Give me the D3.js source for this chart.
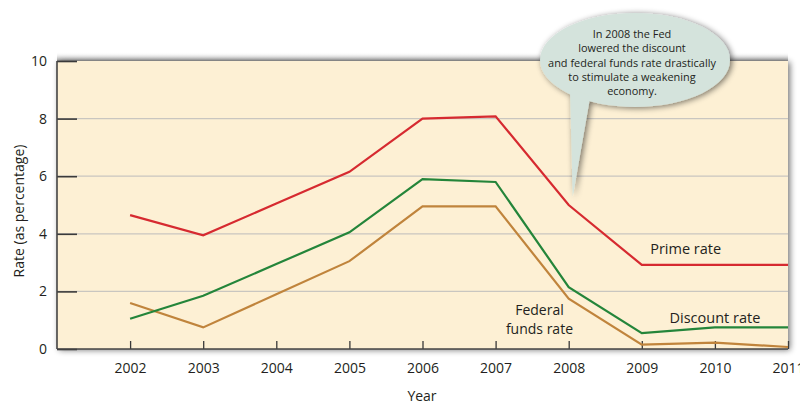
<!DOCTYPE html>
<html>
<head>
<meta charset="utf-8">
<script src="https://cdn.jsdelivr.net/npm/d3@7"></script>
<style>
  body { margin: 0; background: #fff; }
  text { font-family: "Open Sans", sans-serif; fill: #231f20; }
</style>
</head>
<body>
<div id="chart"></div>
<script>
// years on the x axis
var years = [2002, 2003, 2004, 2005, 2006, 2007, 2008, 2009, 2010, 2011];

// rates (percent)
var primeRate    = [4.65, 3.95, 5.05, 6.15, 8.0, 8.08, 5.0, 2.92, 2.92, 2.92];
var discountRate = [1.05, 1.85, 2.95, 4.05, 5.9, 5.8, 2.15, 0.55, 0.75, 0.75];
var fedFundsRate = [1.6, 0.75, 1.9, 3.05, 4.95, 4.95, 1.75, 0.15, 0.22, 0.07];

var yTicks = [0, 2, 4, 6, 8, 10];

var calloutLines = [
  "In 2008 the Fed",
  "lowered the discount",
  "and federal funds rate drastically",
  "to stimulate a weakening",
  "economy."
];

var width = 800;
var height = 405;
var margin = { top: 61, right: 12, bottom: 56, left: 57 };
var plotW = width - margin.left - margin.right;
var plotH = height - margin.top - margin.bottom;

var svg = d3.select('#chart')
  .append('svg')
  .attr('width', width)
  .attr('height', height);

var defs = svg.append('defs');

// soft shadow used for the plot box and the bubble
var shadow = defs.append('filter')
  .attr('id', 'shadow')
  .attr('x', '-10%').attr('y', '-10%')
  .attr('width', '120%').attr('height', '120%');
shadow.append('feGaussianBlur')
  .attr('in', 'SourceAlpha')
  .attr('stdDeviation', 3);
shadow.append('feOffset').attr('dx', 2).attr('dy', 1).attr('result', 'b');
shadow.append('feComponentTransfer').append('feFuncA')
  .attr('type', 'linear').attr('slope', 0.55);
var merge = shadow.append('feMerge');
merge.append('feMergeNode');
merge.append('feMergeNode').attr('in', 'SourceGraphic');

var x = d3.scaleLinear()
  .domain([2001, 2011])
  .range([0, plotW]);

var y = d3.scaleLinear()
  .domain([0, 10])
  .range([plotH, 0]);

var g = svg.append('g')
  .attr('transform', 'translate(' + margin.left + ',' + margin.top + ')');

// top shadow band above plot
var topGrad = defs.append('linearGradient')
  .attr('id', 'topGrad')
  .attr('x1', 0).attr('y1', 1).attr('x2', 0).attr('y2', 0);
topGrad.append('stop').attr('offset', '0%').attr('stop-color', '#8a8a8a').attr('stop-opacity', 0.9);
topGrad.append('stop').attr('offset', '100%').attr('stop-color', '#ffffff').attr('stop-opacity', 0);

g.append('rect')
  .attr('x', 0)
  .attr('y', -9)
  .attr('width', plotW)
  .attr('height', 9)
  .attr('fill', 'url(#topGrad)');

// plot background
g.append('rect')
  .attr('width', plotW)
  .attr('height', plotH)
  .attr('fill', '#fdf0d4')
  .attr('filter', 'url(#shadow)');

// grid lines
g.append('g')
  .selectAll('line')
  .data(yTicks.filter(function(d) { return d > 0 && d < 10; }))
  .enter()
  .append('line')
  .attr('x1', 0)
  .attr('x2', plotW)
  .attr('y1', function(d) { return y(d); })
  .attr('y2', function(d) { return y(d); })
  .attr('stroke', '#c9c6c0')
  .attr('stroke-width', 1.3);

// y axis: ticks point inward
var yAxis = d3.axisRight(y)
  .tickValues(yTicks)
  .tickSize(20)
  .tickFormat(d3.format('d'));

var yg = g.append('g').call(yAxis);
yg.select('.domain').remove();
yg.selectAll('.tick line').attr('stroke', '#3a3a3a').attr('stroke-width', 1.6);
yg.selectAll('.tick text')
  .attr('x', -10)
  .attr('text-anchor', 'end')
  .attr('font-size', 14)
  .attr('fill', '#231f20');

// x axis: ticks point up
var xAxis = d3.axisTop(x)
  .tickValues(years)
  .tickSize(8)
  .tickFormat(d3.format('d'));

var xg = g.append('g')
  .attr('transform', 'translate(0,' + plotH + ')')
  .call(xAxis);
xg.select('.domain').remove();
xg.selectAll('.tick line').attr('stroke', '#3a3a3a').attr('stroke-width', 1.3);
xg.selectAll('.tick text')
  .attr('y', 24)
  .attr('font-size', 14)
  .attr('fill', '#231f20');

// left and bottom frame
g.append('line')
  .attr('x1', 0).attr('x2', 0)
  .attr('y1', 0).attr('y2', plotH)
  .attr('stroke', '#444').attr('stroke-width', 1.6);
g.append('line')
  .attr('x1', 0).attr('x2', plotW)
  .attr('y1', plotH).attr('y2', plotH)
  .attr('stroke', '#444').attr('stroke-width', 1.6);

// series lines
var line = d3.line()
  .x(function(d, i) { return x(years[i]); })
  .y(function(d) { return y(d); });

var series = [
  { values: fedFundsRate, color: '#c0843c' },
  { values: discountRate, color: '#24853a' },
  { values: primeRate, color: '#d62a30' }
];

g.selectAll('.series')
  .data(series)
  .enter()
  .append('path')
  .attr('class', 'series')
  .attr('d', function(d) { return line(d.values); })
  .attr('fill', 'none')
  .attr('stroke', function(d) { return d.color; })
  .attr('stroke-width', 2.2)
  .attr('stroke-linejoin', 'miter');

// series labels
g.append('text')
  .attr('x', x(2009.6))
  .attr('y', y(3.3))
  .attr('text-anchor', 'middle')
  .attr('font-size', 14.5)
  .text('Prime rate');

g.append('text')
  .attr('x', x(2010.0))
  .attr('y', y(0.9))
  .attr('text-anchor', 'middle')
  .attr('font-size', 14.5)
  .text('Discount rate');

g.append('text')
  .attr('x', x(2007.6))
  .attr('y', y(1.17))
  .attr('text-anchor', 'middle')
  .attr('font-size', 14)
  .text('Federal');
g.append('text')
  .attr('x', x(2007.6))
  .attr('y', y(0.53))
  .attr('text-anchor', 'middle')
  .attr('font-size', 14)
  .text('funds rate');

// axis titles
svg.append('text')
  .attr('x', 422)
  .attr('y', 401)
  .attr('text-anchor', 'middle')
  .attr('font-size', 14)
  .text('Year');

svg.append('text')
  .attr('transform', 'translate(24,' + (margin.top + plotH / 2 + 6) + ') rotate(-90)')
  .attr('text-anchor', 'middle')
  .attr('font-size', 14)
  .text('Rate (as percentage)');

// callout bubble pointing at the 2008 drop
var tipX = margin.left + x(2008) + 4;
var tipY = margin.top + y(5.0) - 8;
var cx = 635, cy = 60, rx = 95, ry = 47;

var bubble = svg.append('g').attr('filter', 'url(#shadow)');
bubble.append('path')
  .attr('d', 'M' + 570 + ',' + (cy + 30) +
             ' L' + tipX + ',' + tipY +
             ' L' + 590 + ',' + (cy + 38) + ' Z')
  .attr('fill', '#d4e3dc');
bubble.append('ellipse')
  .attr('cx', cx)
  .attr('cy', cy)
  .attr('rx', rx)
  .attr('ry', ry)
  .attr('fill', '#d4e3dc');
// cover the seam between tail and ellipse
svg.append('path')
  .attr('d', 'M' + 571 + ',' + (cy + 28) +
             ' L' + (tipX + 0.3) + ',' + (tipY - 3) +
             ' L' + 589 + ',' + (cy + 36) + ' Z')
  .attr('fill', '#d4e3dc');

var callout = svg.append('g')
  .selectAll('text')
  .data(calloutLines)
  .enter()
  .append('text')
  .attr('x', cx - 3)
  .attr('y', function(d, i) { return 38 + i * 14.3; })
  .attr('text-anchor', 'middle')
  .attr('font-size', 11.6)
  .attr('fill', '#333')
  .text(function(d) { return d; });

// fit the longest line to the bubble width seen in the reference (~164px)
var longest = d3.max(callout.nodes(), function(n) { return n.getComputedTextLength(); });
if (longest > 0) {
  callout.attr('font-size', 11.6 * 168 / longest);
}
</script>
</body>
</html>
